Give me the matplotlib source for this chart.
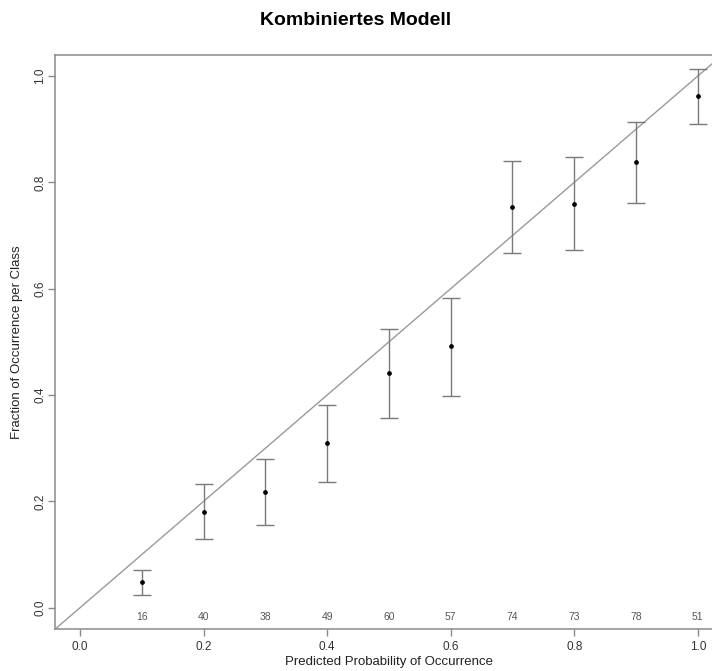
import matplotlib
matplotlib.use("Agg")
import matplotlib.pyplot as plt
import numpy as np

plt.rcParams['font.family'] = ['Liberation Sans', 'DejaVu Sans']

# predicted probability classes, observed fraction and bounds
pred = [0.1, 0.2, 0.3, 0.4, 0.5, 0.6, 0.7, 0.8, 0.9, 1.0]
frac = [0.049, 0.180, 0.218, 0.310, 0.442, 0.492, 0.754, 0.760, 0.839, 0.962]
lower = [0.024, 0.129, 0.156, 0.236, 0.357, 0.398, 0.667, 0.673, 0.761, 0.909]
upper = [0.071, 0.232, 0.279, 0.382, 0.524, 0.582, 0.841, 0.847, 0.913, 1.014]
counts = [16, 40, 38, 49, 60, 57, 74, 73, 78, 51]
ticks = [0.0, 0.2, 0.4, 0.6, 0.8, 1.0]

fig = plt.figure(figsize=(7.12, 6.71), dpi=100)
ax = fig.add_axes([0.0768, 0.0626, 0.938, 0.855])

ax.set_xlim(-0.041, 1.04)
ax.set_ylim(-0.04, 1.039)

# 1:1 line
ax.plot([-0.1, 1.2], [-0.1, 1.2], color='#9a9a9a', lw=1.0)

frac = np.array(frac)
err = [frac - np.array(lower), np.array(upper) - frac]
ax.errorbar(pred, frac, yerr=err, fmt='none', ecolor='#7a7a7a',
            elinewidth=1.0, capsize=6.5, capthick=1.0)
ax.plot(pred, frac, 'o', color='black', ms=2.4)

for x, n in zip(pred, counts):
    ax.text(x, -0.018, str(n), ha='center', va='center',
            fontsize=7.5, color='#555555')

for s in ax.spines.values():
    s.set_color('#8a8a8a')
    s.set_linewidth(1.1)

ax.set_xticks(ticks)
ax.set_yticks(ticks)
ax.set_xticklabels(['%.1f' % t for t in ticks])
ax.set_yticklabels(['%.1f' % t for t in ticks], rotation=90, va='center')
ax.tick_params(direction='out', length=5, width=1, color='#8a8a8a',
               labelsize=8.5, labelcolor='#333333')
ax.tick_params(axis='x', pad=4)
ax.tick_params(axis='y', pad=1)

ax.set_xlabel('Predicted Probability of Occurrence', fontsize=9.5,
              color='#222222', labelpad=2)
ax.set_ylabel('Fraction of Occurrence per Class', fontsize=9.5,
              color='#222222', labelpad=8)

fig.text(0.5, 0.969, 'Kombiniertes Modell', ha='center', va='center',
         fontsize=14, fontweight='bold')

fig.savefig('out.png', dpi=100)
